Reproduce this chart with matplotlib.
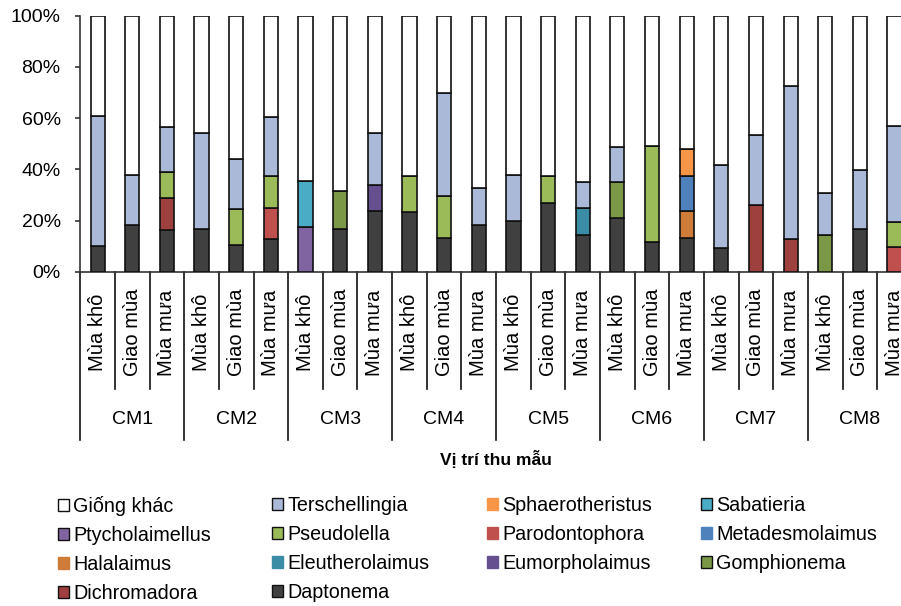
import matplotlib
matplotlib.use('Agg')
import matplotlib.pyplot as plt
from matplotlib.patches import Patch
import numpy as np

plt.rcParams['font.family'] = ['Liberation Sans', 'DejaVu Sans']

# Dữ liệu
sites = ['CM1', 'CM2', 'CM3', 'CM4', 'CM5', 'CM6', 'CM7', 'CM8']
seasons = ['Mùa khô', 'Giao mùa', 'Mùa mưa']

daptonema = [10.0, 18.2, 16.5, 16.8, 10.4, 12.8, 0, 16.7, 23.9, 23.4, 13.3, 18.3,
             20.0, 26.8, 14.3, 21.1, 11.6, 13.3, 9.4, 0, 0, 0, 16.7, 0]
dichromadora = [0, 0, 12.4, 0, 0, 0, 0, 0, 0, 0, 0, 0,
                0, 0, 0, 0, 0, 0, 0, 26.1, 12.8, 0, 0, 0]
gomphionema = [0, 0, 0, 0, 0, 0, 0, 14.9, 0, 0, 0, 0,
               0, 0, 0, 14.0, 0, 0, 0, 0, 0, 14.3, 0, 0]
eumorpholaimus = [0, 0, 0, 0, 0, 0, 0, 0, 10.2, 0, 0, 0,
                  0, 0, 0, 0, 0, 0, 0, 0, 0, 0, 0, 0]
eleutherolaimus = [0, 0, 0, 0, 0, 0, 0, 0, 0, 0, 0, 0,
                   0, 0, 10.7, 0, 0, 0, 0, 0, 0, 0, 0, 0]
halalaimus = [0, 0, 0, 0, 0, 0, 0, 0, 0, 0, 0, 0,
              0, 0, 0, 0, 0, 10.5, 0, 0, 0, 0, 0, 0]
metadesmolaimus = [0, 0, 0, 0, 0, 0, 0, 0, 0, 0, 0, 0,
                   0, 0, 0, 0, 0, 13.5, 0, 0, 0, 0, 0, 0]
parodontophora = [0, 0, 0, 0, 0, 12.3, 0, 0, 0, 0, 0, 0,
                  0, 0, 0, 0, 0, 0, 0, 0, 0, 0, 0, 9.9]
pseudolella = [0, 0, 10.1, 0, 14.1, 12.2, 0, 0, 0, 13.9, 16.2, 0,
               0, 10.5, 0, 0, 37.5, 0, 0, 0, 0, 0, 0, 9.6]
ptycholaimellus = [0, 0, 0, 0, 0, 0, 17.7, 0, 0, 0, 0, 0,
                   0, 0, 0, 0, 0, 0, 0, 0, 0, 0, 0, 0]
sabatieria = [0, 0, 0, 0, 0, 0, 17.9, 0, 0, 0, 0, 0,
              0, 0, 0, 0, 0, 0, 0, 0, 0, 0, 0, 0]
sphaerotheristus = [0, 0, 0, 0, 0, 0, 0, 0, 0, 0, 0, 0,
                    0, 0, 0, 0, 0, 10.7, 0, 0, 0, 0, 0, 0]
terschellingia = [50.7, 19.8, 17.4, 37.3, 19.6, 23.0, 0, 0, 20.0, 0, 40.2, 14.6,
                  18.0, 0, 10.1, 13.5, 0, 0, 32.5, 27.5, 59.7, 16.4, 23.0, 37.4]

# thứ tự chồng từ dưới lên: (tên, số liệu, màu, viền trong chú thích)
series = [
    ('Daptonema', daptonema, '#404040', True),
    ('Dichromadora', dichromadora, '#9E413E', True),
    ('Gomphionema', gomphionema, '#7A9845', True),
    ('Eumorpholaimus', eumorpholaimus, '#664F8F', False),
    ('Eleutherolaimus', eleutherolaimus, '#3A8DA5', False),
    ('Halalaimus', halalaimus, '#CF7C38', False),
    ('Metadesmolaimus', metadesmolaimus, '#4F81BD', False),
    ('Parodontophora', parodontophora, '#C0504D', False),
    ('Pseudolella', pseudolella, '#9BBB59', True),
    ('Ptycholaimellus', ptycholaimellus, '#8064A2', True),
    ('Sabatieria', sabatieria, '#4BACC6', True),
    ('Sphaerotheristus', sphaerotheristus, '#F79646', False),
    ('Terschellingia', terschellingia, '#AAB9D7', True),
]
other = 100 - np.sum([np.array(s[1]) for s in series], axis=0)
series.append(('Giống khác', list(other), '#FFFFFF', True))

n = len(sites) * len(seasons)
x = np.arange(n)

fig = plt.figure(figsize=(9.01, 6.06), dpi=100)
ax = fig.add_axes([0.0891, 0.5512, 0.923, 0.4232])

bottom = np.zeros(n)
for name, vals, color, _ in series:
    vals = np.array(vals)
    ax.bar(x, vals, width=0.41, bottom=bottom, color=color,
           edgecolor='#111111', linewidth=1.2, zorder=3)
    bottom += vals

ax.set_xlim(-0.5, n - 0.5)
ax.set_ylim(0, 100)
ax.set_yticks(np.arange(0, 101, 20))
ax.set_yticklabels([f'{v}%' for v in range(0, 101, 20)], fontsize=14)
ax.tick_params(axis='y', direction='out', length=3.6, width=1.2, color='#333333', pad=10.5)
ax.set_xticks([])
for s in ['top', 'right']:
    ax.spines[s].set_visible(False)
for s in ['left', 'bottom']:
    ax.spines[s].set_color('#333333')
    ax.spines[s].set_linewidth(1.2)

# nhãn trục x nhiều cấp
tr = ax.get_xaxis_transform()
for i in range(n):
    ax.text(i, -0.236, seasons[i % 3], rotation=90, ha='center', va='center',
            fontsize=14.5, transform=tr, clip_on=False)
for k in range(n + 1):
    y_end = -0.655 if k % 3 == 0 else -0.456
    ax.plot([k - 0.5, k - 0.5], [0, y_end], color='#111111', lw=1.2,
            transform=tr, clip_on=False)
for g, site in enumerate(sites):
    ax.text(g * 3 + 1, -0.577, site, ha='center', va='center', fontsize=14,
            transform=tr, clip_on=False)

fig.text(496 / 901, 1 - 459 / 606, 'Vị trí thu mẫu', ha='center', va='center',
         fontsize=12.5, fontweight='bold')

# chú thích: 4 cột, xếp theo hàng
legend_order = ['Giống khác', 'Terschellingia', 'Sphaerotheristus', 'Sabatieria',
                'Ptycholaimellus', 'Pseudolella', 'Parodontophora', 'Metadesmolaimus',
                'Halalaimus', 'Eleutherolaimus', 'Eumorpholaimus', 'Gomphionema',
                'Dichromadora', 'Daptonema']
lookup = {s[0]: s for s in series}
col_x = [58, 272, 487, 701]
for c in range(4):
    names = legend_order[c::4]
    handles = []
    for nm in names:
        _, _, color, border = lookup[nm]
        handles.append(Patch(facecolor=color,
                             edgecolor='#111111' if border else color,
                             linewidth=1.0))
    fig.legend(handles, names, loc='upper left',
               bbox_to_anchor=(col_x[c] / 901, 1 - 496 / 606),
               frameon=False, fontsize=14.2, handlelength=0.58, handleheight=0.58,
               handletextpad=0.2, borderpad=0, borderaxespad=0,
               labelspacing=0.51)

plt.savefig('out.png', dpi=100)
